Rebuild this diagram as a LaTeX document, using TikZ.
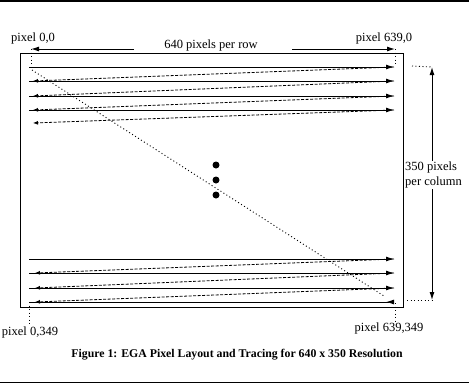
\documentclass[tikz,border=0pt]{standalone}
\usepackage{fontspec}
\setmainfont{Liberation Serif}
\usetikzlibrary{arrows.meta,positioning,calc}
\tikzset{%
    >={Latex[width=5pt,length=8pt]},
    % Specifications for style of nodes:
    plain/.style = {},
    pixlabel/.style = {plain, inner sep=0pt, font=\fontsize{12.5}{15}\selectfont},
    caption/.style = {plain, inner sep=0pt, font=\fontsize{11.8}{14}\selectfont\bfseries},
    pixdot/.style = {circle, fill=black, inner sep=0pt, minimum size=7pt},
    % Specifications for style of lines:
    scanline/.style = {line width=1pt, ->},
    retrace/.style = {line width=0.8pt, dash pattern=on 3pt off 1.5pt,
        -{Latex[width=4pt,length=5pt]}},
    guide/.style = {line width=0.9pt, dash pattern=on 1pt off 2.5pt}
}

\begin{document}
\begin{tikzpicture}[x=1pt, y=-1pt]
    \useasboundingbox (0,0) rectangle (469,384);
    \draw[line width=1.5pt] (0,0.75) -- (469,0.75);
    \draw[line width=1.5pt] (0,382.5) -- (469,382.5);

    % screen
    \draw[line width=1pt] (20,53) rectangle (403,307);

    % top scan lines
    \foreach \r/\y in {1/67, 2/81, 3/96, 4/110, 5/123}{
        \coordinate (tl\r) at (29,\y);
        \coordinate (tb\r) at (33,\y);
        \coordinate (tr\r) at (394,\y);
    }
    \foreach \r in {1,...,4}{
        \draw[scanline] (tl\r) -- (tr\r);
    }
    \foreach \r/\n in {1/2, 2/3, 3/4, 4/5}{
        \draw[retrace] (tr\r) -- (tb\n);
    }

    % bottom scan lines
    \foreach \r/\y in {1/259, 2/273, 3/288, 4/302}{
        \coordinate (bl\r) at (29,\y);
        \coordinate (bb\r) at (35,\y);
        \coordinate (br\r) at (394,\y);
    }
    \foreach \r in {1,...,3}{
        \draw[scanline] (bl\r) -- (br\r);
    }
    \draw[line width=1pt, -{Latex[width=5pt,length=8pt,reversed]}] (bl4) -- (br4);
    \foreach \r/\n in {1/2, 2/3, 3/4}{
        \draw[retrace] (br\r) -- (bb\n);
    }

    % vertical retrace
    \coordinate (vtop) at (32,70);
    \coordinate (vbot) at (384,296);
    \draw[guide] (vtop) -- (vbot);

    % more lines
    \node[pixdot] (dot1) at (216,165) {};
    \node[pixdot] (dot2) at (216,180) {};
    \node[pixdot] (dot3) at (216,195) {};

    % corner labels
    \node[pixlabel] (p00) at (33,38) {pixel 0,0};
    \node[pixlabel] (p6390) at (384,38) {pixel 639,0};
    \node[pixlabel] (p0349) at (30,332) {pixel 0,349};
    \node[pixlabel] (p639349) at (389,328) {pixel 639,349};

    % width
    \node[pixlabel] (width) at (211,45) {640 pixels per row};
    \coordinate (wl) at (134,49);
    \coordinate (wltip) at (31,49);
    \coordinate (wr) at (292,49);
    \coordinate (wrtip) at (395,49);
    \draw[line width=1pt, ->] (wl) -- (wltip);
    \draw[line width=1pt, ->] (wr) -- (wrtip);
    \draw[guide] (wltip) -- (31,66);
    \draw[guide] (wrtip) -- (395,66);
    \draw[guide] (bl4) -- (p0349.north -| bl4);
    \draw[guide] (395,303) -- (p639349.north -| 395,0);

    % height
    \coordinate (htop) at (432,67);
    \coordinate (hbot) at (432,300);
    \draw[guide] (412,66) -- (htop);
    \draw[guide] (407,300) -- (hbot);
    \draw[line width=1pt, <->] (htop) -- (hbot);
    \node[pixlabel, fill=white, align=left, anchor=west, inner sep=1pt] (height) at (404,175)
        {350 pixels\\per column};

    \node[caption] (fig) at (237,355)
        {Figure 1: EGA Pixel Layout and Tracing for 640 x 350 Resolution};
\end{tikzpicture}
\end{document}
